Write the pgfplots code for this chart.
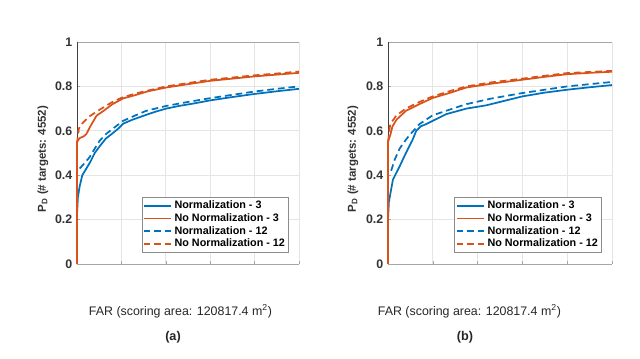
\documentclass[border=0pt]{standalone}
\usepackage{fontspec}
\setmainfont{Liberation Sans}
\usepackage{pgfplots}
\pgfplotsset{compat=1.18}

\definecolor{mblue}{rgb}{0,0.447,0.741}
\definecolor{morange}{rgb}{0.85,0.325,0.098}
\definecolor{gridgray}{gray}{0.9}

\pgfplotsset{
  rocax/.style={
    scale only axis, height=166.5pt,
    xmin=0, xmax=5, ymin=0, ymax=1,
    axis lines*=left,
    axis line style={draw=none},
    xtick={0,1,2,3,4,5}, xticklabels={},
    ytick={0,0.2,0.4,0.6,0.8,1},
    yticklabels={\textbf{0},\textbf{0.2},\textbf{0.4},\textbf{0.6},\textbf{0.8},\textbf{1}},
    tick label style={font=\fontsize{9.3}{10}\selectfont, text=black!80},
    tick align=inside, major tick length=2.5pt,
    tick style={color=black!35},
    grid=major, major grid style={color=gridgray, line width=0.5pt},
    clip=false,
    legend cell align=left,
    legend style={font=\fontsize{8.1}{9}\selectfont\bfseries, draw=black!45,
      fill=white, inner sep=0.8pt, row sep=-1.8pt,
      at={(axis description cs:0.955,0.05)}, anchor=south east},
    legend image code/.code={\draw[##1] (0cm,0cm) -- (0.72cm,0cm);},
  },
  sol/.style={solid, line width=1.3pt},
  das/.style={line width=1.3pt, dash pattern=on 5pt off 3pt},
}

\begin{document}
\begin{tikzpicture}
\path[use as bounding box] (0pt,0pt) rectangle (480pt,269.25pt);

% (a)
\begin{axis}[rocax, width=166.5pt, at={(57.75pt,71.25pt)}, anchor=south west]
\draw[black!35, line width=0.6pt] (axis cs:0,0) -- (axis cs:5,0);
\draw[black!35, line width=0.6pt] (axis cs:0,1) -- (axis cs:5,1);
\draw[black!75, line width=0.6pt] (axis cs:0,0) -- (axis cs:0,1);
\addplot[mblue, sol] coordinates {
(0,0) (0,0.22) (0.02,0.30) (0.06,0.35) (0.12,0.40) (0.21,0.43) (0.30,0.46)
(0.40,0.50) (0.51,0.53) (0.65,0.565) (0.81,0.59) (0.93,0.61) (1.04,0.632)
(1.25,0.65) (1.56,0.672) (1.8,0.688) (2.01,0.70) (2.3,0.712) (2.6,0.722)
(3.0,0.737) (3.5,0.752) (4.0,0.766) (4.5,0.778) (5.0,0.789)};
\addplot[morange, sol] coordinates {
(0,0) (0,0.55) (0.06,0.567) (0.15,0.575) (0.21,0.585) (0.3,0.62) (0.44,0.668)
(0.6,0.69) (0.8,0.72) (1.04,0.746) (1.3,0.76) (1.6,0.778) (2.01,0.795)
(2.5,0.81) (3.0,0.825) (3.5,0.835) (4.0,0.845) (4.5,0.853) (5.0,0.861)};
\addplot[mblue, das] coordinates {
(0.06,0.43) (0.15,0.45) (0.28,0.48) (0.4,0.52) (0.51,0.555) (0.65,0.585)
(0.81,0.61) (1.04,0.645) (1.3,0.668) (1.56,0.69) (2.01,0.712) (2.5,0.73)
(3.0,0.747) (3.5,0.762) (4.0,0.777) (4.5,0.789) (5.0,0.80)};
\addplot[morange, das] coordinates {
(0,0.54) (0.03,0.60) (0.06,0.62) (0.15,0.64) (0.28,0.665) (0.51,0.695)
(0.8,0.73) (1.04,0.752) (1.4,0.772) (2.01,0.80) (2.5,0.815) (3.0,0.83)
(3.5,0.84) (4.0,0.85) (4.5,0.858) (5.0,0.867)};
\legend{Normalization - 3, No Normalization - 3, Normalization - 12, No Normalization - 12}
\end{axis}

% (b)
\begin{axis}[rocax, width=168pt, at={(291pt,71.25pt)}, anchor=south west]
\draw[black!35, line width=0.6pt] (axis cs:0,0) -- (axis cs:5,0);
\draw[black!35, line width=0.6pt] (axis cs:0,1) -- (axis cs:5,1);
\draw[black!75, line width=0.6pt] (axis cs:0,0) -- (axis cs:0,1);
\addplot[mblue, sol] coordinates {
(0,0) (0,0.2) (0.02,0.28) (0.11,0.38) (0.26,0.44) (0.4,0.50) (0.55,0.56)
(0.63,0.60) (0.73,0.62) (0.85,0.63) (1.0,0.645) (1.3,0.675) (1.75,0.70)
(2.2,0.715) (2.6,0.735) (3.0,0.755) (3.5,0.772) (4.0,0.785) (4.5,0.796) (5.0,0.806)};
\addplot[morange, sol] coordinates {
(0,0) (0,0.55) (0.05,0.58) (0.1,0.62) (0.19,0.65) (0.4,0.69) (0.7,0.72)
(1.0,0.748) (1.4,0.772) (1.75,0.795) (2.3,0.812) (3.0,0.83) (3.5,0.843)
(4.0,0.855) (4.5,0.861) (5.0,0.866)};
\addplot[mblue, das] coordinates {
(0.07,0.42) (0.15,0.47) (0.26,0.52) (0.4,0.56) (0.48,0.58) (0.7,0.63)
(1.0,0.67) (1.4,0.697) (1.75,0.72) (2.3,0.745) (3.0,0.77) (3.5,0.785)
(4.0,0.80) (4.5,0.81) (5.0,0.82)};
\addplot[morange, das] coordinates {
(0,0.55) (0.03,0.60) (0.05,0.63) (0.19,0.67) (0.4,0.70) (0.7,0.73)
(1.0,0.755) (1.4,0.78) (1.75,0.80) (2.3,0.818) (3.0,0.835) (3.5,0.848)
(4.0,0.86) (4.5,0.865) (5.0,0.87)};
\legend{Normalization - 3, No Normalization - 3, Normalization - 12, No Normalization - 12}
\end{axis}

% labels
\foreach \cx/\tx/\ylx/\tag in {135.4pt/129.75pt/32.25pt/a, 352.1pt/348.75pt/264.75pt/b}{
  \node[font=\fontsize{9.3}{10}\selectfont, text=black!85] at (\cx,36pt) {FAR (scoring area: 120817.4 m\textsuperscript{2})};
  \node[font=\fontsize{9.5}{10}\selectfont\bfseries, text=black!85] at (\tx,16.5pt) {(\tag)};
  \node[font=\fontsize{8.6}{10}\selectfont\bfseries, text=black!80, rotate=90] at (\ylx,150pt) {P\textsubscript{D} (\# targets: 4552)};
}
\end{tikzpicture}
\end{document}
